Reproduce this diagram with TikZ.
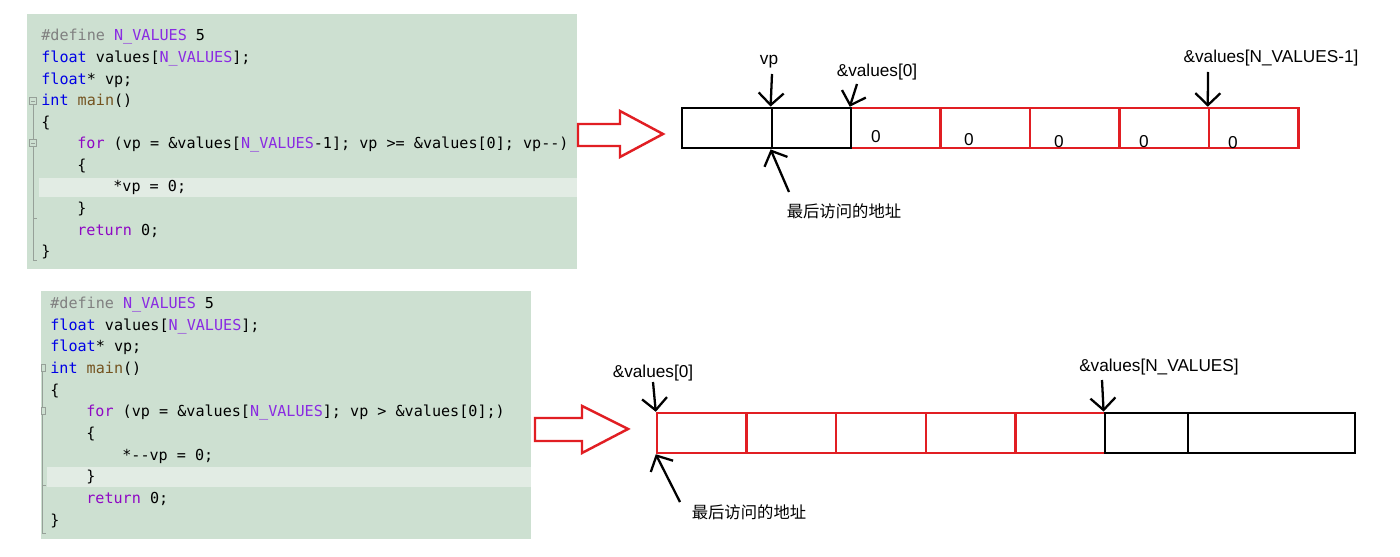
\documentclass[tikz,border=0pt]{standalone}
\usepackage{fontspec}
\setmainfont{Liberation Sans}
\newfontfamily\codefont{DejaVu Sans Mono}
\newfontfamily\cjk{Noto Sans CJK SC}
\usetikzlibrary{arrows.meta}
\definecolor{codebg}{RGB}{205,224,209}
\definecolor{codehl}{RGB}{226,236,228}
\definecolor{kwclr}{RGB}{0,0,230}
\definecolor{ctlclr}{RGB}{143,8,196}
\definecolor{macclr}{RGB}{138,43,226}
\definecolor{fnclr}{RGB}{116,83,31}
\definecolor{preclr}{RGB}{128,128,128}
\definecolor{arrred}{RGB}{225,30,35}
\definecolor{gutclr}{RGB}{150,160,152}
\newcommand{\cKw}[1]{\textcolor{kwclr}{#1}}
\newcommand{\cCtl}[1]{\textcolor{ctlclr}{#1}}
\newcommand{\cMac}[1]{\textcolor{macclr}{#1}}
\newcommand{\cFn}[1]{\textcolor{fnclr}{#1}}
\newcommand{\cPre}[1]{\textcolor{preclr}{#1}}
\tikzset{
    code/.style={anchor=base west,inner sep=0pt,font=\codefont\fontsize{8.6}{10}\selectfont},
    lbl/.style={inner sep=0pt,font=\fontsize{9.8}{11}\selectfont},
    cjklbl/.style={inner sep=0pt,font=\cjk\fontsize{9.3}{11}\selectfont},
    cell/.style={rectangle,minimum height=0.8cm,inner sep=0pt},
    redcell/.style={cell,draw=arrred,line width=1.4pt,minimum width=1.79cm},
    blkcell/.style={cell,draw=black,line width=1.6pt},
    ptr/.style={-{Straight Barb[length=2.4mm,width=5mm]},line width=1.3pt},
    bigarrow/.style={draw=arrred,line width=1.4pt,fill=white,line join=miter},
    gutter/.style={draw=gutclr,line width=0.5pt},
}
\begin{document}
\begin{tikzpicture}[x=0.02cm,y=-0.02cm]
\useasboundingbox[fill=white] (0,0) rectangle (1400,557);

% upper code
\fill[codebg] (27,14) rectangle (577,269);
\fill[codehl] (39,178) rectangle (577,197);
\draw[gutter] (29.5,97.5) rectangle (36.5,104.5) (31,101) -- (35,101);
\draw[gutter] (29.5,139.5) rectangle (36.5,146.5) (31,143) -- (35,143);
\draw[gutter] (33,105) -- (33,139) (33,147) -- (33,260) -- (37,260) (33,218) -- (37,218);
\node[code] (tl0)  at (41,41)    {\cPre{\#define} \cMac{N\_VALUES} 5};
\node[code] (tl1)  at (41,62.6)  {\cKw{float} values[\cMac{N\_VALUES}];};
\node[code] (tl2)  at (41,84.1)  {\cKw{float}* vp;};
\node[code] (tl3)  at (41,105.7) {\cKw{int} \cFn{main}()};
\node[code] (tl4)  at (41,127.3) {\{};
\node[code] (tl5)  at (77,148.9) {\cCtl{for} (vp = \&values[\cMac{N\_VALUES}-1]; vp >= \&values[0]; vp--)};
\node[code] (tl6)  at (77,170.4) {\{};
\node[code] (tl7)  at (113,192)  {*vp = 0;};
\node[code] (tl8)  at (77,213.6) {\}};
\node[code] (tl9)  at (77,235.1) {\cCtl{return} 0;};
\node[code] (tl10) at (41,256.7) {\}};

% lower code
\fill[codebg] (41,291) rectangle (531,539);
\fill[codehl] (47,467) rectangle (531,487);
\draw[gutter] (41,364.5) rectangle (45,371.5) (41,407.5) rectangle (45,414.5);
\draw[gutter] (42.5,372) -- (42.5,407) (42.5,415) -- (42.5,533) -- (46,533) (42.5,485) -- (46,485);
\node[code] (bl0)  at (50,308.5)  {\cPre{\#define} \cMac{N\_VALUES} 5};
\node[code] (bl1)  at (50,330.2)  {\cKw{float} values[\cMac{N\_VALUES}];};
\node[code] (bl2)  at (50,351.8)  {\cKw{float}* vp;};
\node[code] (bl3)  at (50,373.5)  {\cKw{int} \cFn{main}()};
\node[code] (bl4)  at (50,395.2)  {\{};
\node[code] (bl5)  at (86,416.9)  {\cCtl{for} (vp = \&values[\cMac{N\_VALUES}]; vp > \&values[0];)};
\node[code] (bl6)  at (86,438.5)  {\{};
\node[code] (bl7)  at (122,460.2) {*--vp = 0;};
\node[code] (bl8)  at (86,481.9)  {\}};
\node[code] (bl9)  at (86,503.5)  {\cCtl{return} 0;};
\node[code] (bl10) at (50,525.2)  {\}};

% hollow arrows
\draw[bigarrow] (578,124) -- (620,124) -- (620,111) -- (663,134) -- (620,157) -- (620,146) -- (578,146) -- cycle;
\draw[bigarrow] (535,418) -- (582,418) -- (582,406) -- (628,429) -- (582,453) -- (582,441) -- (535,441) -- cycle;

% upper array
\foreach \i in {0,...,4}
    \node[redcell] (tr\i) at (895.75+89.5*\i,128) {};
\node[blkcell,minimum width=1.8cm]  (ta) at (727,128)   {};
\node[blkcell,minimum width=1.58cm] (tb) at (811.5,128) {};
\foreach \x/\y [count=\n] in {876/137,969/140,1059/142,1144/142,1233/143}
    \node[lbl] (z\n) at (\x,\y) {0};

\node[lbl]    (lvp)   at (769,62)   {vp};
\node[lbl]    (lv0)   at (877,72)   {\&values[0]};
\node[lbl]    (lnm1)  at (1271,58)  {\&values[N\_VALUES-1]};
\node[cjklbl] (llast) at (844,211)  {最后访问的地址};
\coordinate (pvp)   at (772,74);
\coordinate (pv0)   at (857,84);
\coordinate (plast) at (789,192);
\coordinate (pnm1)  at (1208,72);
\draw[ptr] (pvp) -- (tb.north west);
\draw[ptr] (pv0) -- (tr0.north west);
\draw[ptr] (plast) -- (tb.south west);
\draw[ptr] (pnm1) -- (tr4.north west);

% lower array
\foreach \i in {0,...,4}
    \node[redcell,minimum width=1.792cm] (br\i) at (701.8+89.6*\i,433) {};
\node[blkcell,minimum width=1.66cm] (bk0) at (1146.5,433) {};
\node[blkcell,minimum width=3.34cm,line width=1.3pt] (bk1) at (1271.5,433) {};

\node[lbl]    (lb0)    at (653,373)  {\&values[0]};
\node[lbl]    (lbn)    at (1159,367) {\&values[N\_VALUES]};
\node[cjklbl] (lblast) at (749,512)  {最后访问的地址};
\coordinate (pb0)    at (653,382);
\coordinate (pblast) at (680,502);
\coordinate (pbn)    at (1102,380);
\draw[ptr] (pb0) -- (br0.north west);
\draw[ptr] (pblast) -- (br0.south west);
\draw[ptr] (pbn) -- (bk0.north west);
\end{tikzpicture}
\end{document}
